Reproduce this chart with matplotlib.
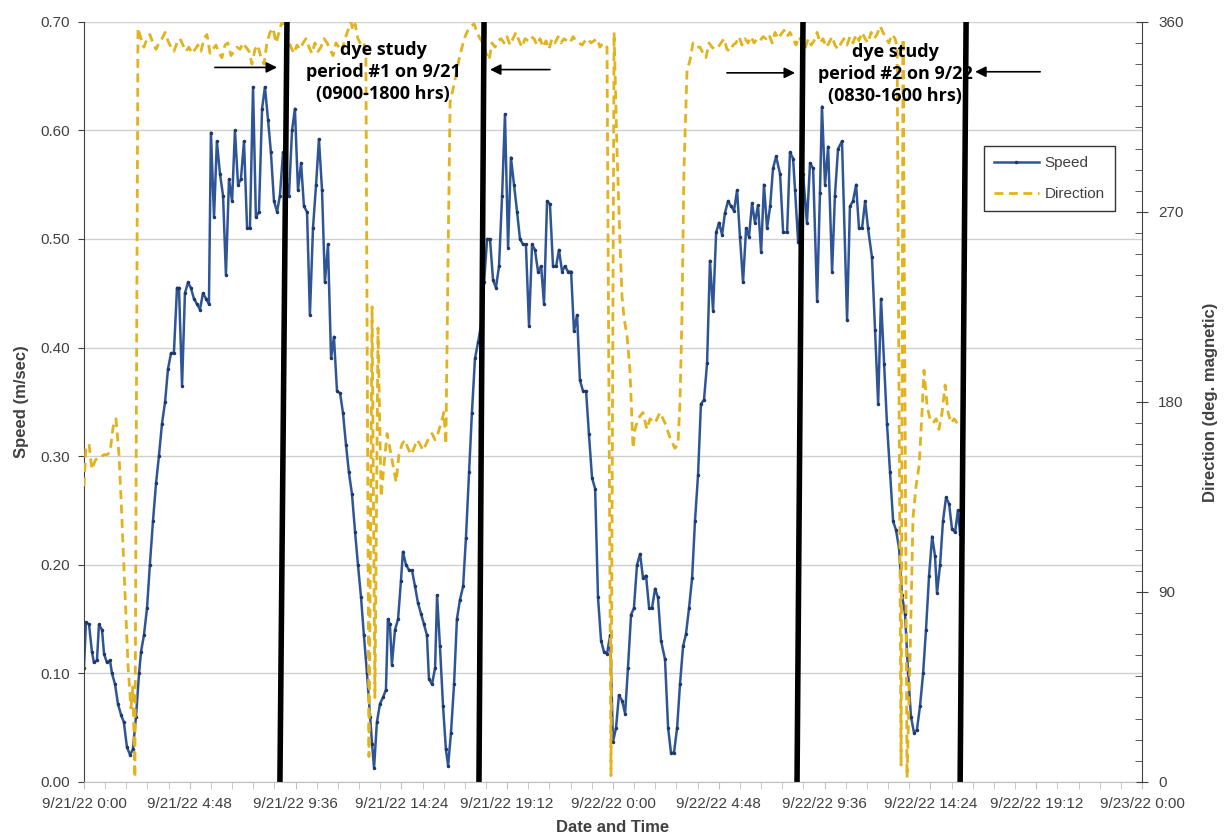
import matplotlib
matplotlib.use('Agg')
import matplotlib.pyplot as plt
from matplotlib.ticker import MultipleLocator

plt.rcParams['font.family'] = ['Liberation Sans', 'DejaVu Sans']

# (hours after 9/21/22 0:00, speed m/s)
speed_pts = [
    (0.00, 0.105), (0.09, 0.147), (0.23, 0.145), (0.36, 0.120), (0.45, 0.110), (0.59, 0.112), (0.68, 0.145),
    (0.82, 0.140), (0.91, 0.118), (1.04, 0.110), (1.18, 0.112), (1.27, 0.100), (1.41, 0.090), (1.54, 0.072),
    (1.68, 0.062), (1.81, 0.055), (1.95, 0.032), (2.09, 0.025), (2.22, 0.030), (2.36, 0.060), (2.50, 0.100),
    (2.59, 0.120), (2.72, 0.135), (2.86, 0.160), (2.99, 0.200), (3.13, 0.240), (3.27, 0.275), (3.40, 0.300),
    (3.54, 0.330), (3.68, 0.350), (3.81, 0.380), (3.95, 0.395), (4.08, 0.395), (4.22, 0.455), (4.31, 0.455),
    (4.45, 0.365), (4.58, 0.450), (4.72, 0.460), (4.85, 0.455), (4.99, 0.445), (5.13, 0.440), (5.26, 0.435),
    (5.40, 0.450), (5.54, 0.445), (5.67, 0.440), (5.76, 0.598), (5.90, 0.520), (6.03, 0.590), (6.17, 0.560),
    (6.31, 0.540), (6.44, 0.467), (6.58, 0.555), (6.72, 0.535), (6.85, 0.600), (6.99, 0.550), (7.12, 0.555),
    (7.26, 0.590), (7.40, 0.510), (7.53, 0.510), (7.67, 0.640), (7.80, 0.520), (7.94, 0.525), (8.08, 0.620),
    (8.21, 0.640), (8.35, 0.610), (8.48, 0.580), (8.62, 0.535), (8.76, 0.525), (8.89, 0.540), (9.03, 0.580),
    (9.17, 0.555), (9.30, 0.540), (9.44, 0.600), (9.57, 0.620), (9.71, 0.545), (9.85, 0.570), (9.98, 0.530),
    (10.12, 0.525), (10.25, 0.430), (10.39, 0.510), (10.53, 0.550), (10.66, 0.592), (10.80, 0.545),
    (10.93, 0.460), (11.07, 0.495), (11.21, 0.390), (11.34, 0.410), (11.48, 0.360), (11.62, 0.358),
    (11.75, 0.340), (11.89, 0.310), (12.02, 0.285), (12.16, 0.265), (12.30, 0.230), (12.43, 0.200),
    (12.57, 0.170), (12.70, 0.135), (12.84, 0.100), (12.98, 0.060), (13.07, 0.035), (13.16, 0.013),
    (13.29, 0.055), (13.43, 0.072), (13.57, 0.078), (13.70, 0.085), (13.79, 0.150), (13.88, 0.145),
    (13.97, 0.108), (14.11, 0.140), (14.25, 0.150), (14.38, 0.185), (14.47, 0.212), (14.61, 0.200),
    (14.75, 0.195), (14.88, 0.195), (15.02, 0.180), (15.15, 0.165), (15.29, 0.155), (15.43, 0.145),
    (15.56, 0.135), (15.65, 0.095), (15.79, 0.090), (15.93, 0.105), (16.02, 0.172), (16.15, 0.125),
    (16.29, 0.070), (16.42, 0.030), (16.52, 0.015), (16.65, 0.045), (16.79, 0.090), (16.92, 0.150),
    (17.06, 0.168), (17.20, 0.180), (17.33, 0.225), (17.47, 0.285), (17.60, 0.340), (17.74, 0.390),
    (17.88, 0.405), (18.01, 0.420), (18.15, 0.460), (18.29, 0.500), (18.42, 0.500), (18.56, 0.462),
    (18.69, 0.455), (18.83, 0.475), (18.97, 0.540), (19.10, 0.615), (19.24, 0.492), (19.37, 0.575),
    (19.51, 0.550), (19.65, 0.525), (19.78, 0.500), (19.92, 0.495), (20.05, 0.495), (20.19, 0.420),
    (20.33, 0.495), (20.46, 0.490), (20.60, 0.470), (20.74, 0.475), (20.87, 0.440), (21.01, 0.535),
    (21.14, 0.532), (21.28, 0.475), (21.42, 0.475), (21.55, 0.490), (21.69, 0.470), (21.82, 0.475),
    (21.96, 0.470), (22.10, 0.470), (22.23, 0.415), (22.37, 0.430), (22.50, 0.370), (22.64, 0.360),
    (22.78, 0.360), (22.91, 0.320), (23.05, 0.280), (23.19, 0.270), (23.32, 0.170), (23.46, 0.130),
    (23.59, 0.120), (23.73, 0.118), (23.87, 0.135), (24.00, 0.037), (24.14, 0.050), (24.27, 0.080),
    (24.41, 0.075), (24.55, 0.063), (24.68, 0.105), (24.82, 0.154), (24.95, 0.160), (25.09, 0.200),
    (25.23, 0.210), (25.36, 0.188), (25.50, 0.190), (25.64, 0.160), (25.77, 0.160), (25.91, 0.178),
    (26.04, 0.170), (26.18, 0.130), (26.36, 0.113), (26.50, 0.050), (26.63, 0.027), (26.77, 0.027),
    (26.91, 0.050), (27.04, 0.090), (27.18, 0.125), (27.31, 0.136), (27.45, 0.160), (27.59, 0.188),
    (27.72, 0.240), (27.86, 0.283), (27.99, 0.348), (28.13, 0.352), (28.27, 0.386), (28.40, 0.480),
    (28.54, 0.434), (28.68, 0.506), (28.81, 0.515), (28.95, 0.504), (29.08, 0.524), (29.22, 0.535),
    (29.36, 0.530), (29.49, 0.526), (29.63, 0.545), (29.76, 0.502), (29.90, 0.460), (30.04, 0.510),
    (30.17, 0.502), (30.31, 0.533), (30.44, 0.515), (30.58, 0.531), (30.72, 0.488), (30.85, 0.550),
    (30.99, 0.510), (31.13, 0.530), (31.26, 0.565), (31.40, 0.576), (31.58, 0.560), (31.72, 0.506),
    (31.90, 0.506), (32.03, 0.580), (32.17, 0.574), (32.26, 0.545), (32.40, 0.497), (32.62, 0.560),
    (32.80, 0.515), (32.94, 0.570), (33.08, 0.565), (33.26, 0.443), (33.39, 0.542), (33.48, 0.622),
    (33.62, 0.550), (33.76, 0.585), (33.94, 0.470), (34.07, 0.540), (34.21, 0.583), (34.39, 0.590),
    (34.62, 0.425), (34.75, 0.530), (34.89, 0.535), (35.03, 0.550), (35.16, 0.510), (35.30, 0.510),
    (35.44, 0.535), (35.57, 0.510), (35.75, 0.483), (35.89, 0.416), (36.03, 0.348), (36.16, 0.445),
    (36.30, 0.385), (36.43, 0.330), (36.57, 0.285), (36.71, 0.240), (36.84, 0.232), (36.98, 0.215),
    (37.11, 0.172), (37.25, 0.155), (37.39, 0.100), (37.52, 0.060), (37.66, 0.045), (37.79, 0.048),
    (37.93, 0.070), (38.07, 0.100), (38.20, 0.140), (38.34, 0.190), (38.48, 0.226), (38.61, 0.208),
    (38.70, 0.174), (38.84, 0.200), (38.97, 0.240), (39.11, 0.262), (39.25, 0.256), (39.38, 0.233),
    (39.52, 0.230), (39.65, 0.250), (39.75, 0.228),
]

# (hours after 9/21/22 0:00, direction deg. magnetic)
dir_pts = [
    (0.00, 140), (0.09, 158), (0.23, 160), (0.36, 148), (0.50, 152), (0.64, 154), (0.77, 154), (0.91, 155),
    (1.04, 155), (1.18, 156), (1.32, 168), (1.45, 172), (1.59, 155), (1.72, 125), (1.86, 90), (2.00, 55),
    (2.13, 35), (2.22, 45), (2.31, 2), (2.45, 357), (2.59, 352), (2.72, 348), (2.86, 352), (2.99, 354),
    (3.13, 350), (3.27, 347), (3.40, 350), (3.54, 352), (3.68, 355), (3.81, 351), (3.95, 348), (4.08, 346),
    (4.22, 350), (4.36, 352), (4.49, 349), (4.63, 346), (4.76, 348), (4.90, 345), (5.04, 347), (5.17, 349),
    (5.31, 346), (5.44, 352), (5.58, 354), (5.72, 345), (5.85, 347), (5.99, 349), (6.13, 345), (6.26, 343),
    (6.40, 349), (6.53, 350), (6.67, 344), (6.81, 346), (6.94, 348), (7.08, 347), (7.21, 350), (7.35, 348),
    (7.49, 346), (7.62, 340), (7.76, 347), (7.89, 349), (8.03, 343), (8.17, 340), (8.30, 350), (8.44, 355),
    (8.58, 357), (8.71, 350), (8.85, 355), (8.98, 360), (9.12, 358), (9.26, 352), (9.39, 348), (9.53, 345),
    (9.66, 349), (9.80, 347), (9.94, 350), (10.07, 352), (10.21, 348), (10.34, 345), (10.48, 350),
    (10.62, 346), (10.75, 348), (10.89, 352), (11.03, 350), (11.16, 347), (11.30, 344), (11.43, 350),
    (11.57, 348), (11.71, 346), (11.84, 352), (11.98, 356), (12.11, 360), (12.20, 356), (12.30, 359),
    (12.43, 352), (12.57, 349), (12.70, 350), (12.79, 345), (12.93, 12), (13.07, 225), (13.20, 40),
    (13.34, 215), (13.48, 135), (13.61, 150), (13.75, 165), (13.88, 158), (14.02, 150), (14.16, 142),
    (14.29, 155), (14.43, 160), (14.56, 162), (14.70, 158), (14.84, 155), (14.97, 158), (15.11, 162),
    (15.24, 160), (15.38, 157), (15.52, 160), (15.65, 163), (15.79, 165), (15.93, 162), (16.06, 165),
    (16.20, 170), (16.33, 175), (16.42, 160), (16.52, 250), (16.61, 322), (16.74, 328), (16.88, 335),
    (17.01, 342), (17.15, 348), (17.29, 353), (17.42, 356), (17.56, 358), (17.70, 359), (17.83, 355),
    (17.97, 352), (18.10, 350), (18.24, 345), (18.38, 342), (18.51, 350), (18.65, 348), (18.78, 351),
    (18.92, 352), (19.06, 350), (19.19, 353), (19.33, 349), (19.46, 352), (19.60, 355), (19.74, 351),
    (19.87, 348), (20.01, 352), (20.15, 351), (20.28, 353), (20.42, 352), (20.55, 349), (20.69, 352),
    (20.83, 348), (20.96, 351), (21.10, 347), (21.23, 352), (21.37, 350), (21.51, 353), (21.64, 350),
    (21.78, 352), (21.91, 351), (22.05, 350), (22.19, 353), (22.32, 351), (22.46, 350), (22.60, 349),
    (22.73, 351), (22.87, 352), (23.00, 350), (23.14, 351), (23.28, 352), (23.41, 348), (23.55, 350),
    (23.73, 348), (23.91, 3), (24.05, 355), (24.18, 300), (24.32, 255), (24.41, 230), (24.50, 220),
    (24.64, 211), (24.77, 195), (24.91, 158), (25.00, 167), (25.14, 172), (25.36, 175), (25.54, 167),
    (25.68, 172), (25.91, 170), (26.13, 175), (26.36, 170), (26.59, 163), (26.81, 158), (26.95, 160),
    (27.04, 180), (27.13, 221), (27.22, 290), (27.36, 337), (27.50, 342), (27.63, 350), (27.81, 348),
    (27.95, 348), (28.09, 345), (28.22, 343), (28.36, 350), (28.49, 348), (28.63, 347), (28.77, 348),
    (28.90, 350), (29.04, 352), (29.17, 347), (29.31, 346), (29.45, 349), (29.58, 350), (29.72, 353),
    (29.85, 349), (29.99, 352), (30.13, 350), (30.26, 353), (30.40, 350), (30.54, 352), (30.67, 351),
    (30.81, 353), (30.94, 352), (31.08, 354), (31.22, 350), (31.35, 355), (31.49, 352), (31.62, 354),
    (31.76, 356), (31.90, 353), (32.03, 355), (32.17, 352), (32.30, 349), (32.44, 353), (32.58, 350),
    (32.71, 347), (32.85, 352), (32.99, 349), (33.12, 351), (33.26, 355), (33.39, 350), (33.53, 352),
    (33.67, 348), (33.80, 350), (33.94, 353), (34.07, 349), (34.21, 347), (34.35, 350), (34.48, 352),
    (34.62, 349), (34.75, 353), (34.89, 350), (35.03, 354), (35.16, 351), (35.30, 355), (35.44, 352),
    (35.57, 350), (35.71, 355), (35.84, 352), (35.98, 354), (36.12, 358), (36.25, 355), (36.39, 352),
    (36.52, 350), (36.66, 354), (36.80, 352), (36.89, 348), (37.07, 8), (37.16, 352), (37.34, 2),
    (37.48, 60), (37.61, 125), (37.75, 140), (37.89, 150), (38.02, 175), (38.11, 195), (38.25, 178),
    (38.38, 172), (38.52, 170), (38.66, 172), (38.79, 167), (38.93, 175), (39.07, 188), (39.20, 175),
    (39.34, 170), (39.48, 172), (39.61, 170), (39.75, 168),
]

speed_hours = [p[0] for p in speed_pts]
speed_values = [p[1] for p in speed_pts]
dir_hours = [p[0] for p in dir_pts]
dir_values = [p[1] for p in dir_pts]

# hand-drawn dye study markers, (hour at bottom, hour at top)
study_lines = [(8.89, 9.21), (17.92, 18.15), (32.35, 32.62), (39.75, 40.02)]
study_texts = ['dye study\nperiod #1 on 9/21\n(0900-1800 hrs)',
               'dye study\nperiod #2 on 9/22\n(0830-1600 hrs)']
text_pos = [(13.57, 0.654), (36.80, 0.652)]
# arrows: (tail hour, head hour, speed level)
arrows = [(5.94, 8.76, 0.658), (21.14, 18.42, 0.656), (29.17, 32.26, 0.653), (43.38, 40.43, 0.654)]

tick_hours = [0, 4.8, 9.6, 14.4, 19.2, 24, 28.8, 33.6, 38.4, 43.2, 48]
tick_labels = ['9/21/22 0:00', '9/21/22 4:48', '9/21/22 9:36', '9/21/22 14:24', '9/21/22 19:12',
               '9/22/22 0:00', '9/22/22 4:48', '9/22/22 9:36', '9/22/22 14:24', '9/22/22 19:12',
               '9/23/22 0:00']

blue = '#2F5597'
gold = '#E2B31E'
txt = '#404040'

fig = plt.figure(figsize=(12.24, 8.39), dpi=100)
ax = fig.add_axes([0.0686, 0.068, 0.8644, 0.906])
ax2 = ax.twinx()

l1, = ax.plot(speed_hours, speed_values, color=blue, lw=1.8, marker='.', ms=3,
              mfc='#1F3864', mec='#1F3864', label='Speed')
l2, = ax2.plot(dir_hours, dir_values, color=gold, lw=2.0, ls=(0, (3.2, 2.0)), label='Direction')

ax.set_xlim(0, 48)
ax.set_ylim(0, 0.70)
ax2.set_ylim(0, 360)
ax.yaxis.set_major_locator(MultipleLocator(0.1))
ax.yaxis.set_major_formatter(plt.FuncFormatter(lambda v, p: f'{v:.2f}'))
ax2.yaxis.set_major_locator(MultipleLocator(90))
ax2.yaxis.set_minor_locator(MultipleLocator(10))
ax.set_xticks(tick_hours)
ax.set_xticklabels(tick_labels)
ax.xaxis.set_minor_locator(MultipleLocator(0.96))

ax.grid(axis='y', color='#D0D0D0', lw=1.0)
ax.set_axisbelow(True)
for a in (ax, ax2):
    for side in ('top', 'left', 'right', 'bottom'):
        a.spines[side].set_visible(False)
ax.spines['left'].set_visible(True)
ax.spines['left'].set_color('#404040')
ax.spines['bottom'].set_visible(True)
ax.spines['bottom'].set_color('#BFBFBF')
ax2.spines['right'].set_visible(True)
ax2.spines['right'].set_color('#404040')

ax.tick_params(axis='x', which='both', length=5, color='#BFBFBF', labelsize=11, labelcolor=txt, pad=6)
ax.tick_params(axis='y', length=4, color='#404040', labelsize=11, labelcolor=txt, pad=6)
ax2.tick_params(axis='y', which='major', direction='inout', length=9, color='#404040',
                labelsize=11, labelcolor=txt, pad=7)
ax2.tick_params(axis='y', which='minor', direction='in', length=5, color='#404040')

ax.set_xlabel('Date and Time', fontsize=12, fontweight='bold', color=txt, labelpad=6)
ax.set_ylabel('Speed (m/sec)', fontsize=12, fontweight='bold', color=txt, labelpad=8)
ax2.set_ylabel('Direction (deg. magnetic)', fontsize=12, fontweight='bold', color=txt, labelpad=14)

for b, t in study_lines:
    ax2.plot([b, t], [0, 1], transform=ax2.get_xaxis_transform(), color='black', lw=4,
             solid_capstyle='butt', zorder=6)

for s, (hx, sy) in zip(study_texts, text_pos):
    ax2.text(hx, sy, s, transform=ax.transData, ha='center', va='center', fontsize=13,
             fontweight='bold', family=['Open Sans', 'DejaVu Sans'], linespacing=1.3, zorder=7)

for tail, head, lvl in arrows:
    ax2.annotate('', xy=(head, lvl), xytext=(tail, lvl), xycoords=ax.transData, textcoords=ax.transData,
                 arrowprops=dict(arrowstyle='-|>', color='black', lw=1.2, mutation_scale=16,
                                 shrinkA=0, shrinkB=0), zorder=7)

leg = ax2.legend(handles=[l1, l2], loc='upper left', bbox_to_anchor=(0.851, 0.836), borderaxespad=0,
                 fontsize=11, frameon=True, fancybox=False, edgecolor='black', handlelength=2.9,
                 handletextpad=0.4, borderpad=0.65, labelspacing=1.1)
leg.get_frame().set_linewidth(1.0)
for t in leg.get_texts():
    t.set_color(txt)

fig.savefig('out.png', dpi=100)
